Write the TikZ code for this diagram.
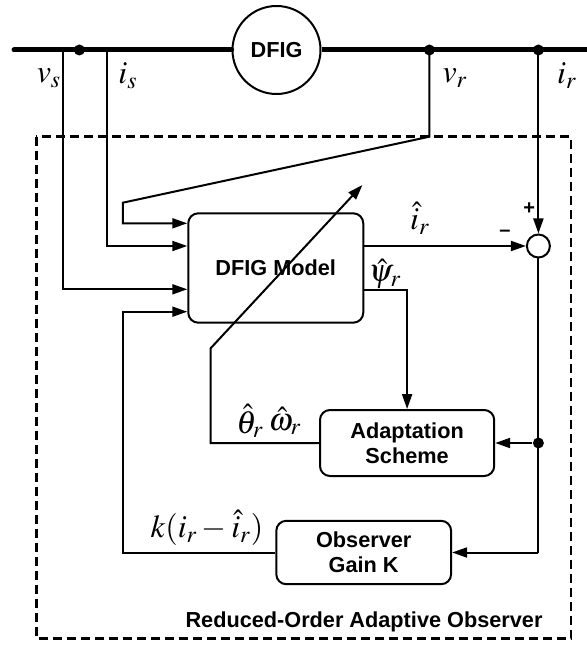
\documentclass[tikz,border=0pt]{standalone}
\usepackage{mathptmx}
\usepackage[no-math]{fontspec}
\setsansfont{Liberation Sans}
\usetikzlibrary{arrows.meta,positioning,calc}

\begin{document}
\begin{tikzpicture}[
    x=0.5pt, y=-0.5pt,
    line width=1pt,
    block/.style={
        draw,
        rounded corners=5pt,
        minimum width=87.5pt,
        align=center,
        font=\sffamily\bfseries\fontsize{10.85}{12.5}\selectfont
    },
    sig/.style={font=\fontsize{16}{19}\selectfont, inner sep=0pt},
    sign/.style={font=\sffamily\bfseries\fontsize{10}{12}\selectfont, inner sep=0pt},
    arrow/.style={-{Triangle[length=7.5pt,width=5pt]}},
    bus/.style={line width=2.5pt},
    junction/.style={circle, fill, inner sep=0pt, minimum size=5.5pt}
]
\useasboundingbox (0,0) rectangle (587,646);

% observer frame
\draw[line width=1.3pt, dash pattern=on 4.5pt off 2.5pt] (36.3,136.7) rectangle (571,638.3);
\node[font=\sffamily\bfseries\fontsize{10.85}{13}\selectfont] (title) at (364,621.7) {Reduced-Order Adaptive Observer};

% machine on the bus
\node[draw, circle, minimum size=44pt, inner sep=0pt,
      font=\sffamily\bfseries\fontsize{10.85}{13}\selectfont] (gen) at (276.5,50) {DFIG};
\coordinate (busL) at (14,50);
\coordinate (busR) at (587,50);
\draw[bus, line cap=round] (busL) -- (gen.west);
\draw[bus] (gen.east) -- (busR);

\node[junction] (js) at (79.4,50) {};
\node[junction] (jv) at (429.4,50) {};
\node[junction] (ji) at (538.4,50) {};
\coordinate (vs) at (63,50);
\coordinate (is) at (106.7,50);

\node[sig] (lvs) at (49,78) {$v_s$};
\node[sig] (lis) at (128,76) {$i_s$};
\node[sig] (lvr) at (455,78) {$v_r$};
\node[sig] (lir) at (567,76) {$i_r$};

% blocks
\node[block, minimum height=54.7pt] (model) at (275.75,268) {DFIG Model};
\node[block, minimum width=87.1pt, minimum height=33pt] (adapt) at (407.1,443) {Adaptation\\Scheme};
\node[block, minimum width=87.4pt, minimum height=31.7pt] (gain) at (363.7,552.5) {Observer\\Gain K};
\node[draw, circle, minimum size=11.5pt, inner sep=0pt] (sum) at (538.4,246) {};

% measured inputs
\coordinate (vr1) at (429.4,136.7);
\coordinate (vr2) at (122.8,202.7);
\draw[arrow] (jv.center) -- (vr1) -- (vr2) |- ($(model.west)+(0,-44.7)$);
\draw[arrow] (is) |- ($(model.west)+(0,-22)$);
\draw[arrow] (vs) |- ($(model.west)+(0,21.3)$);

% current error
\draw[arrow] ($(model.east)+(0,-22)$) -- (sum.west);
\draw[arrow] (ji.center) -- (sum.north);
\node[sig] (lih) at (420,218) {$\hat{i}_r$};
\node[sign] (lminus) at (505,233) {--};
\node[sign] (lplus) at (529.3,209) {+};

% flux to adaptation
\draw[arrow] ($(model.east)+(0,22)$) -| (adapt.north);
\node[sig] (lpsi) at (385,274) {$\hat{\psi}_r$};

% error feedback
\node[junction] (je) at (538.4,443) {};
\coordinate (e1) at (538.4,552.5);
\draw (sum.south) -- (e1);
\draw[arrow] (je) -- (adapt.east);
\draw[arrow] (e1) -- (gain.east);
\coordinate (k1) at (122.8,552.5);
\draw[arrow] (gain.west) -- (k1) |- ($(model.west)+(0,43.7)$);
\node[sig] (lk) at (207,528) {$k(i_r - \hat{i}_r)$};

% estimated position and speed retune the model
\coordinate (t1) at (210.6,348.3);
\coordinate (t2) at (362.4,185);
\draw[arrow] (adapt.west) -| (t1) -- (t2);
\node[sig] (lth) at (250,421) {$\hat{\theta}_r$};
\node[sig] (lom) at (285,421) {$\hat{\omega}_r$};
\end{tikzpicture}
\end{document}
